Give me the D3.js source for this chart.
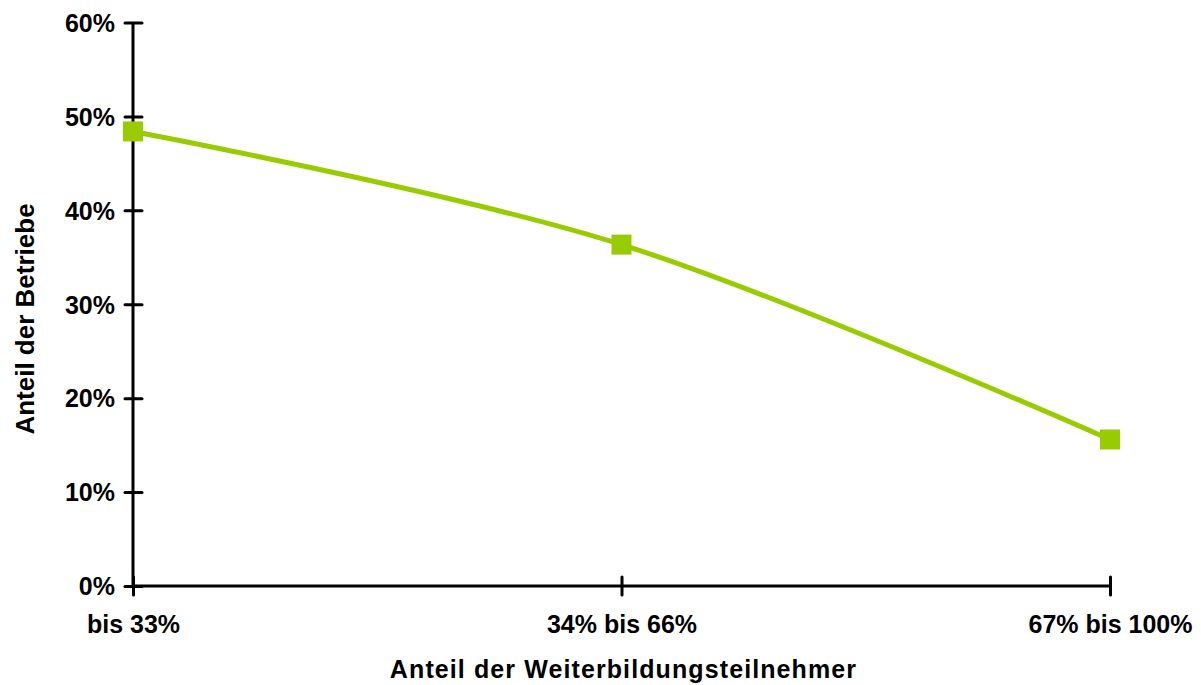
<!DOCTYPE html>
<html>
<head>
<meta charset="utf-8">
<script src="https://cdn.jsdelivr.net/npm/d3@7/dist/d3.min.js"></script>
<style>
  html, body { margin: 0; padding: 0; background: #fff; }
  svg { display: block; }
  text { font-family: "Liberation Sans", Arial, sans-serif; font-weight: bold; fill: #000; }
</style>
</head>
<body>
<svg id="chart" width="1201" height="685"></svg>
<script>
// Share of establishments by share of training participants
const categories = ["bis 33%", "34% bis 66%", "67% bis 100%"];
const values = [0.484, 0.3635, 0.156];
const yTicks = [0, 0.1, 0.2, 0.3, 0.4, 0.5, 0.6];
const xTitle = "Anteil der Weiterbildungsteilnehmer";
const yTitle = "Anteil der Betriebe";

const svg = d3.select("#chart");
const plotLeft = 133, plotRight = 1110, plotTop = 22.5, plotBottom = 586;
const green = "#99cc00";

const x = d3.scalePoint().domain(categories).range([plotLeft, plotRight]);
const y = d3.scaleLinear().domain([0, 0.6]).range([plotBottom, plotTop]);

// y axis: ticks cross the axis line
const yAxis = svg.append("g").attr("transform", `translate(${plotLeft},0)`)
  .call(d3.axisLeft(y).tickValues(yTicks).tickFormat(d3.format(".0%")).tickSize(0).tickPadding(18));
yAxis.select(".domain").remove();
yAxis.selectAll("text").style("font-size", "25px").attr("dy", "0.35em");
yAxis.append("line").attr("x1", 0).attr("x2", 0).attr("y1", plotTop).attr("y2", plotBottom)
  .attr("stroke", "#000").attr("stroke-width", 3);
yAxis.selectAll(".tick").append("line").attr("x1", -8).attr("x2", 9)
  .attr("stroke", "#000").attr("stroke-width", 3).attr("stroke-linecap", "round");

// x axis
const xAxis = svg.append("g").attr("transform", `translate(0,${plotBottom})`)
  .call(d3.axisBottom(x).tickSize(0).tickPadding(29));
xAxis.select(".domain").remove();
xAxis.selectAll("text").style("font-size", "25px").attr("dy", "0.71em");
xAxis.append("line").attr("x1", plotLeft).attr("x2", plotRight).attr("y1", 0).attr("y2", 0)
  .attr("stroke", "#000").attr("stroke-width", 3);
xAxis.selectAll(".tick").append("line").attr("y1", -9).attr("y2", 9)
  .attr("stroke", "#000").attr("stroke-width", 3).attr("stroke-linecap", "round");

// axis titles
svg.append("text").attr("x", (plotLeft + plotRight) / 2 + 2).attr("y", 678)
  .attr("text-anchor", "middle").style("font-size", "25px").style("letter-spacing", "1.1px")
  .text(xTitle);
svg.append("text").attr("transform", "translate(34,319) rotate(-90)")
  .attr("text-anchor", "middle").style("font-size", "26px").text(yTitle);

// smoothed series line
const line = d3.line()
  .x((d, i) => x(categories[i]))
  .y(d => y(d))
  .curve(d3.curveCardinal.tension(0));
svg.append("path").datum(values).attr("d", line)
  .attr("fill", "none").attr("stroke", green).attr("stroke-width", 5);

// square markers
svg.selectAll("rect.marker").data(values).join("rect").attr("class", "marker")
  .attr("x", (d, i) => x(categories[i]) - 10)
  .attr("y", d => y(d) - 10)
  .attr("width", 20).attr("height", 20)
  .attr("fill", green);
</script>
</body>
</html>
